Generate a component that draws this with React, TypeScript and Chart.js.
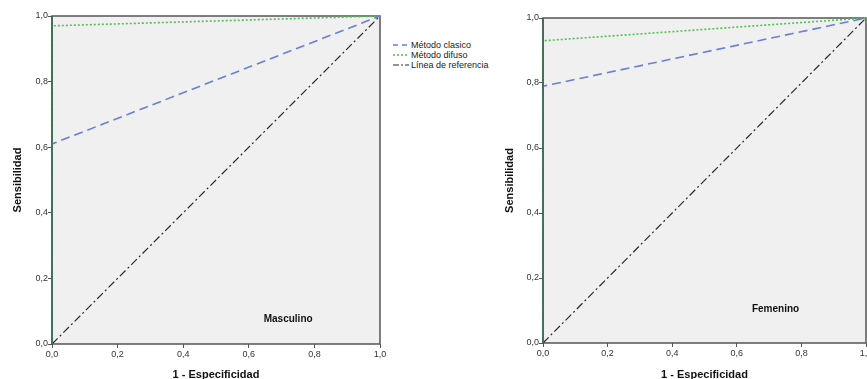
import React, { useEffect, useRef } from "react";
import { Chart, registerables } from "chart.js";

Chart.register(...registerables);

// ---- data ----
const tickValues = [0, 0.2, 0.4, 0.6, 0.8, 1.0];
const tickLabels = ["0,0", "0,2", "0,4", "0,6", "0,8", "1,0"];

const seriesNames = ["Método clasico", "Método difuso", "Línea de referencia"];

// Masculino
const maleClasicoX = [0, 0, 1];
const maleClasicoY = [0, 0.61, 1];
const maleDifusoX = [0, 0, 1];
const maleDifusoY = [0, 0.97, 1];

// Femenino
const femClasicoX = [0, 0, 1];
const femClasicoY = [0, 0.79, 1];
const femDifusoX = [0, 0, 1];
const femDifusoY = [0, 0.93, 1];

// Reference line
const refX = [0, 1];
const refY = [0, 1];

const panelLabels = ["Masculino", "Femenino"];
const panelLabelPos = [
  { x: 0.72, y: 0.075 },
  { x: 0.72, y: 0.105 },
];

const xTitle = "1 - Especificidad";
const yTitle = "Sensibilidad";

// ---- styles ----
const FONT = "Arial, 'Liberation Sans', Helvetica, sans-serif";
const colClasico = "#6a7fd4";
const colDifuso = "#4cc44c";
const colRef = "#2a2a2a";
const dashClasico = [9, 5];
const dashDifuso = [2, 2];
const dashRef = [8, 3, 2, 3];

const toPts = (xs: number[], ys: number[]) => xs.map((x, i) => ({ x, y: ys[i] }));

const areaPlugin = {
  id: "areaPlugin",
  beforeDraw(chart: any) {
    const { ctx, chartArea } = chart;
    const { left, top, right, bottom } = chartArea;
    ctx.save();
    ctx.fillStyle = "#f0f0f0";
    ctx.fillRect(left, top, right - left, bottom - top);
    ctx.restore();
  },
  beforeDatasetsDraw(chart: any) {
    const { ctx, chartArea } = chart;
    const { left, top, right, bottom } = chartArea;
    ctx.save();
    ctx.strokeStyle = "#555555";
    ctx.lineWidth = 1.5;
    ctx.strokeRect(left, top, right - left, bottom - top);
    ctx.restore();
  },
  afterDatasetsDraw(chart: any, _args: any, opts: any) {
    const { ctx, scales, chartArea } = chart;
    const { left, top, bottom } = chartArea;
    ctx.save();
    // left edge: curves' vertical segments merge with the axis line
    ctx.strokeStyle = "#3a6a52";
    ctx.lineWidth = 1.6;
    ctx.beginPath();
    ctx.moveTo(left, bottom);
    ctx.lineTo(left, top);
    ctx.stroke();
    ctx.restore();
    if (!opts || !opts.text) return;
    const px = scales.x.getPixelForValue(opts.x);
    const py = scales.y.getPixelForValue(opts.y);
    ctx.save();
    ctx.font = `bold 10px ${FONT}`;
    ctx.fillStyle = "#111111";
    ctx.textAlign = "center";
    ctx.textBaseline = "middle";
    ctx.fillText(opts.text, px, py);
    ctx.restore();
  },
};

function makeConfig(
  clasico: { x: number; y: number }[],
  difuso: { x: number; y: number }[],
  yAxisWidth: number,
  topPad: number,
  rightPad: number,
  xAxisHeight: number,
  label: string,
  labelPos: { x: number; y: number }
): any {
  const tickFont = { family: FONT, size: 9 };
  const titleFont = { family: FONT, size: 11, weight: "bold" as const };
  return {
    type: "line",
    data: {
      datasets: [
        {
          label: seriesNames[0],
          data: clasico,
          borderColor: colClasico,
          borderDash: dashClasico,
          borderWidth: 1.6,
          pointRadius: 0,
          fill: false,
          tension: 0,
          clip: 4,
        },
        {
          label: seriesNames[1],
          data: difuso,
          borderColor: colDifuso,
          borderDash: dashDifuso,
          borderWidth: 1.6,
          pointRadius: 0,
          fill: false,
          tension: 0,
          clip: 4,
        },
        {
          label: seriesNames[2],
          data: toPts(refX, refY),
          borderColor: colRef,
          borderDash: dashRef,
          borderWidth: 1.2,
          pointRadius: 0,
          fill: false,
          tension: 0,
          clip: 4,
        },
      ],
    },
    options: {
      animation: false,
      responsive: false,
      maintainAspectRatio: false,
      layout: { padding: { top: topPad, right: rightPad, left: 0, bottom: 0 } },
      plugins: {
        legend: { display: false },
        tooltip: { enabled: false },
        areaPlugin: { text: label, x: labelPos.x, y: labelPos.y },
      },
      scales: {
        x: {
          type: "linear",
          min: 0,
          max: 1,
          afterBuildTicks: (scale: any) => {
            scale.ticks = tickValues.map((v) => ({ value: v }));
          },
          afterFit: (scale: any) => {
            scale.height = xAxisHeight;
          },
          ticks: {
            font: tickFont,
            color: "#333333",
            padding: 1,
            maxRotation: 0,
            callback: (_v: any, i: number) => tickLabels[i],
          },
          grid: {
            drawOnChartArea: false,
            drawTicks: true,
            tickLength: 4,
            color: "#555555",
            lineWidth: 1,
          },
          border: { display: false },
          title: {
            display: true,
            text: xTitle,
            font: titleFont,
            color: "#111111",
            padding: { top: 0, bottom: 8 },
          },
        },
        y: {
          type: "linear",
          min: 0,
          max: 1,
          afterBuildTicks: (scale: any) => {
            scale.ticks = tickValues.map((v) => ({ value: v }));
          },
          afterFit: (scale: any) => {
            scale.width = yAxisWidth;
          },
          ticks: {
            font: tickFont,
            color: "#333333",
            padding: 0,
            callback: (_v: any, i: number) => tickLabels[i],
          },
          grid: {
            drawOnChartArea: false,
            drawTicks: true,
            tickLength: 4,
            color: "#555555",
            lineWidth: 1,
          },
          border: { display: false },
          title: {
            display: true,
            text: yTitle,
            font: titleFont,
            color: "#111111",
            padding: { top: 11.4, bottom: 0 },
          },
        },
      },
    },
    plugins: [areaPlugin],
  };
}

function LegendSample({ dash, color, width }: { dash: number[]; color: string; width: number }) {
  return (
    <svg width={16} height={6} style={{ marginRight: 2, flex: "none" }}>
      <line x1={0} y1={3} x2={16} y2={3} stroke={color} strokeWidth={width} strokeDasharray={dash.join(" ")} />
    </svg>
  );
}

export default function App() {
  const leftRef = useRef<HTMLCanvasElement>(null);
  const rightRef = useRef<HTMLCanvasElement>(null);

  useEffect(() => {
    const c1 = new Chart(
      leftRef.current as HTMLCanvasElement,
      makeConfig(
        toPts(maleClasicoX, maleClasicoY),
        toPts(maleDifusoX, maleDifusoY),
        52,
        16,
        10,
        46,
        panelLabels[0],
        panelLabelPos[0]
      )
    );
    const c2 = new Chart(
      rightRef.current as HTMLCanvasElement,
      makeConfig(
        toPts(femClasicoX, femClasicoY),
        toPts(femDifusoX, femDifusoY),
        51,
        18,
        16,
        47,
        panelLabels[1],
        panelLabelPos[1]
      )
    );
    return () => {
      c1.destroy();
      c2.destroy();
    };
  }, []);

  const legendItems = [
    { name: seriesNames[0], dash: [5, 4], color: colClasico, width: 1.6 },
    { name: seriesNames[1], dash: dashDifuso, color: colDifuso, width: 1.6 },
    { name: seriesNames[2], dash: [6, 2, 2, 2], color: colRef, width: 1.2 },
  ];

  return (
    <div
      style={{
        position: "fixed",
        left: 0,
        top: 0,
        width: 867,
        height: 379,
        overflow: "hidden",
        background: "#ffffff",
      }}
    >
      <canvas
        ref={leftRef}
        width={390}
        height={390}
        style={{ position: "absolute", left: 0, top: 0, width: 390, height: 390 }}
      />
      <canvas
        ref={rightRef}
        width={390}
        height={390}
        style={{ position: "absolute", left: 492, top: 0, width: 390, height: 390 }}
      />
      <div
        style={{
          position: "absolute",
          left: 393,
          top: 40,
          fontFamily: FONT,
          fontSize: 9,
          color: "#222222",
          lineHeight: "10px",
        }}
      >
        {legendItems.map((it) => (
          <div key={it.name} style={{ display: "flex", alignItems: "center", height: 10, whiteSpace: "nowrap" }}>
            <LegendSample dash={it.dash} color={it.color} width={it.width} />
            <span>{it.name}</span>
          </div>
        ))}
      </div>
    </div>
  );
}
